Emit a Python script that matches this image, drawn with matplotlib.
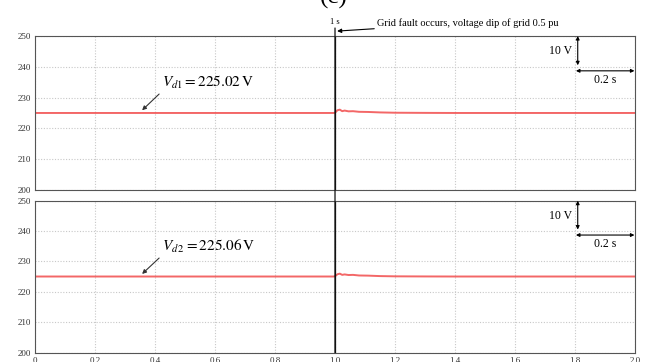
import matplotlib
matplotlib.use("Agg")
import matplotlib.pyplot as plt
from matplotlib.patches import ConnectionPatch

plt.rcParams["font.family"] = ["Liberation Serif", "DejaVu Serif"]
plt.rcParams["mathtext.fontset"] = "stix"

# time axis (s) and DC-link voltages (V)
t = [0.0, 0.2, 0.4, 0.6, 0.8, 0.995, 1.0, 1.008, 1.016, 1.024, 1.032,
     1.045, 1.06, 1.08, 1.11, 1.15, 1.2, 1.3, 1.4, 1.6, 1.8, 2.0]
vd1 = [225.02, 225.02, 225.02, 225.02, 225.02, 225.02, 225.1, 225.9, 226.1,
       225.6, 225.8, 225.55, 225.6, 225.4, 225.35, 225.2, 225.1, 225.05,
       225.02, 225.02, 225.02, 225.02]
vd2 = [225.06, 225.06, 225.06, 225.06, 225.06, 225.06, 225.15, 225.8, 226.0,
       225.6, 225.75, 225.55, 225.6, 225.4, 225.35, 225.2, 225.12, 225.08,
       225.06, 225.06, 225.06, 225.06]

x_ticks = [0.0, 0.2, 0.4, 0.6, 0.8, 1.0, 1.2, 1.4, 1.6, 1.8, 2.0]
x_labels = ["0", "0.2", "0.4", "0.6", "0.8", "1.0", "1.2", "1.4", "1.6", "1.8", "2.0"]
y_ticks = [200, 210, 220, 230, 240, 250]
fault_time = 1.0

fig = plt.figure(figsize=(6.54, 3.62), dpi=100)
ax1 = fig.add_axes([0.0535, 0.475, 0.9175, 0.4255])
ax2 = fig.add_axes([0.0535, 0.0257, 0.9175, 0.4199])

red = "#f25656"
for ax, v in [(ax1, vd1), (ax2, vd2)]:
    ax.plot(t, v, color=red, lw=1.4, alpha=0.9)
    ax.set_xlim(0, 2)
    ax.set_ylim(200, 250)
    ax.set_xticks(x_ticks)
    ax.set_yticks(y_ticks)
    ax.grid(True, color="#c8c8c8", linestyle=(0, (1, 1.5)), lw=0.8)
    ax.tick_params(length=0, labelsize=6.5, pad=3, colors="#333333")
    for s in ax.spines.values():
        s.set_color("#555555")
        s.set_linewidth(0.8)
    ax.axvline(fault_time, color="#111111", lw=0.9)

ax1.set_xticklabels([])
ax2.set_xticklabels(x_labels)

# fault marker line through both panels
con = ConnectionPatch(xyA=(fault_time, 200), coordsA=ax2.transData,
                      xyB=(fault_time, 252.6), coordsB=ax1.transData,
                      color="#111111", lw=0.9)
fig.add_artist(con)

ax1.text(fault_time, 254.5, "1 s", fontsize=6, ha="center", va="center")
ax1.annotate("Grid fault occurs, voltage dip of grid 0.5 pu",
             xy=(1.007, 251.6), xytext=(1.14, 254.3),
             fontsize=7.5, va="center", ha="left", annotation_clip=False,
             arrowprops=dict(arrowstyle="-|>", color="black", lw=0.8,
                             mutation_scale=6, shrinkA=0, shrinkB=0))

# value labels
for ax, label in [(ax1, r"$V_{d1} = 225.02\,\mathrm{V}$"),
                  (ax2, r"$V_{d\,2} = 225.06\,\mathrm{V}$")]:
    ax.annotate(label, xy=(0.357, 225.9), xytext=(0.423, 234.8),
                fontsize=11, va="center", ha="left",
                arrowprops=dict(arrowstyle="-|>", color="#333333", lw=0.8,
                                mutation_scale=6, shrinkA=0, shrinkB=0,
                                relpos=(0, 0)))

# scale bars
for ax in (ax1, ax2):
    ax.annotate("", xy=(1.809, 240.5), xytext=(1.809, 250),
                arrowprops=dict(arrowstyle="<|-|>", color="black", lw=0.8,
                                mutation_scale=5, shrinkA=0, shrinkB=0))
    ax.annotate("", xy=(1.998, 238.7), xytext=(1.803, 238.7),
                arrowprops=dict(arrowstyle="<|-|>", color="black", lw=0.8,
                                mutation_scale=5, shrinkA=0, shrinkB=0))
    ax.text(1.79, 245, "10 V", fontsize=8.5, ha="right", va="center")
    ax.text(1.9, 235.7, "0.2 s", fontsize=8.5, ha="center", va="center")

fig.text(0.51, 0.991, "(c)", fontsize=18, ha="center", va="baseline")

fig.savefig("out.png", dpi=100)
